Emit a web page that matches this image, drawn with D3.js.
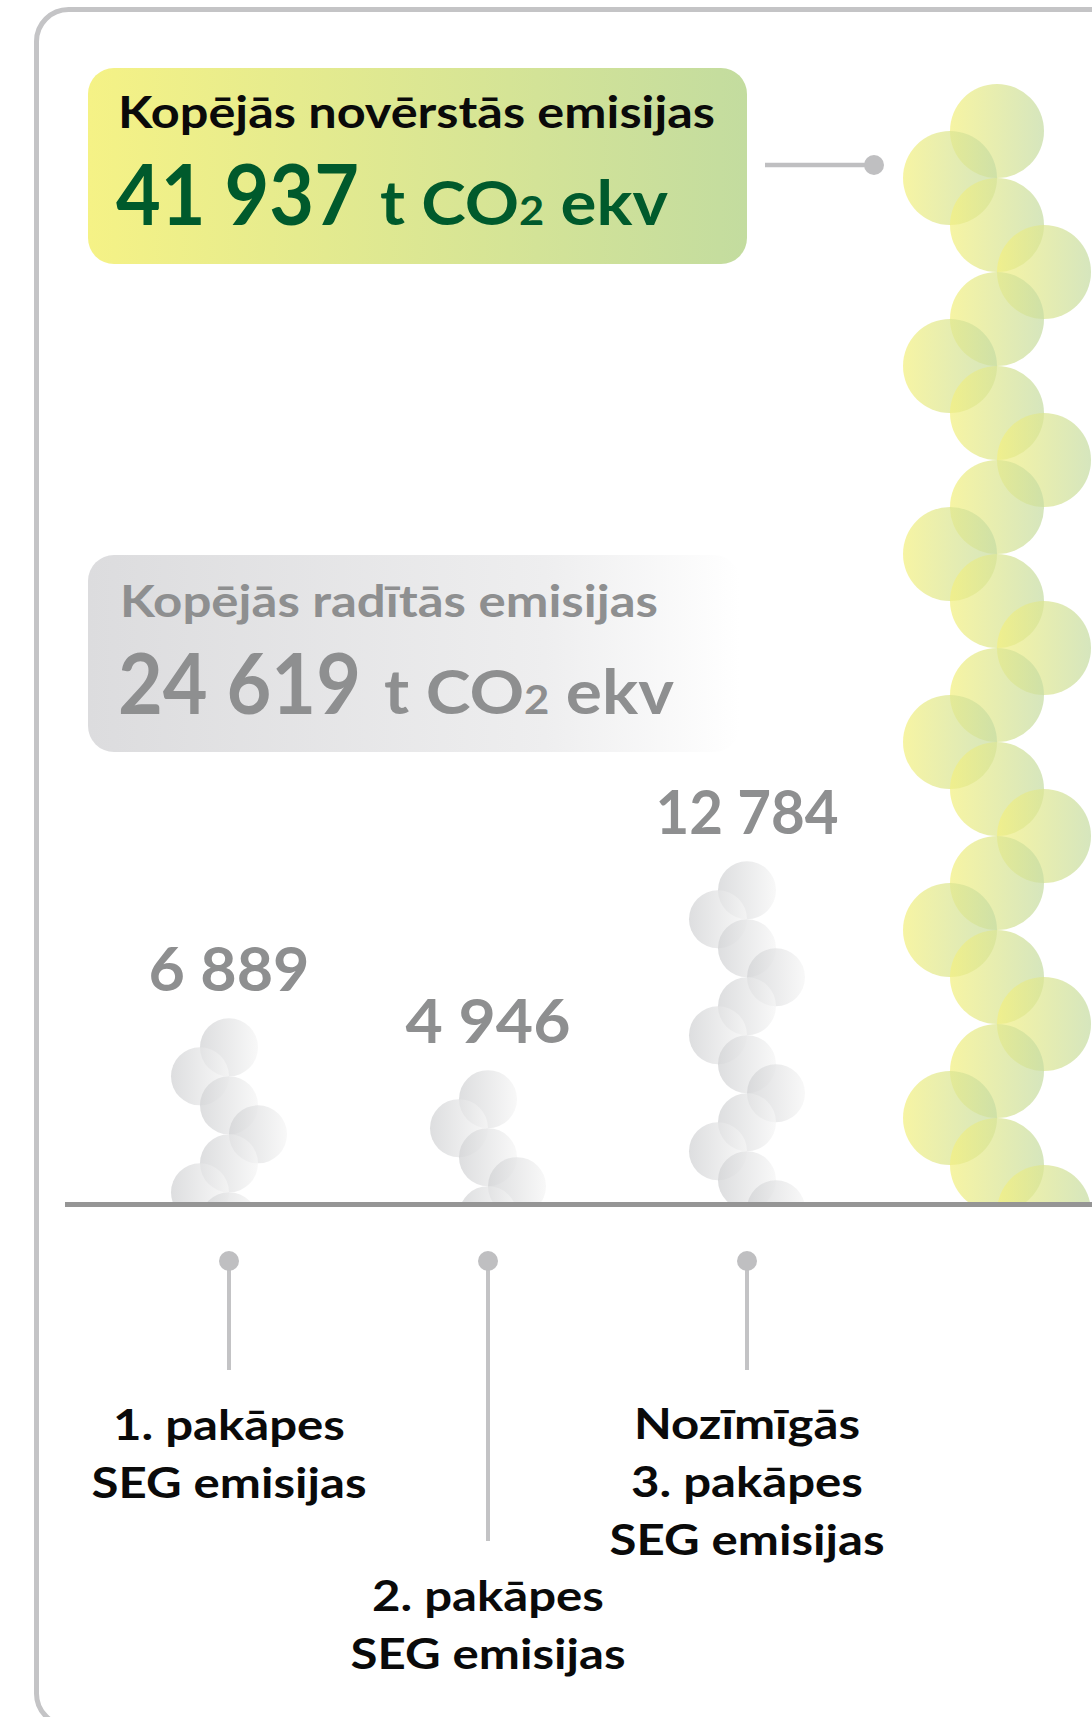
<!DOCTYPE html>
<html>
<head>
<meta charset="utf-8">
<script src="https://cdn.jsdelivr.net/npm/d3@7"></script>
<style>
  body { margin: 0; background: #fff; }
  text { font-family: Lato, "Open Sans", sans-serif; }
</style>
</head>
<body>
<div id="chart"></div>
<script>
// data
var categories = ["1. pakāpes SEG emisijas", "2. pakāpes SEG emisijas", "Nozīmīgās 3. pakāpes SEG emisijas"];
var categoryLines = [["1. pakāpes", "SEG emisijas"], ["2. pakāpes", "SEG emisijas"], ["Nozīmīgās", "3. pakāpes", "SEG emisijas"]];
var values = [6889, 4946, 12784];
var valueLabels = ["6 889", "4 946", "12 784"];
var avoidedTitle = "Kopējās novērstās emisijas";
var avoidedValue = 41937;
var avoidedLabel = "41 937";
var producedTitle = "Kopējās radītās emisijas";
var producedValue = 24619;
var producedLabel = "24 619";
var unitParts = ["t CO", "2", " ekv"];

var width = 1092, height = 1717;
var baseY = 1202;

var svg = d3.select("#chart").append("svg")
    .attr("width", width)
    .attr("height", height);

var defs = svg.append("defs");
function grad(id, stops) {
  var g = defs.append("linearGradient").attr("id", id)
      .attr("x1", "0%").attr("x2", "100%").attr("y1", "0%").attr("y2", "0%");
  stops.forEach(function (s) {
    g.append("stop").attr("offset", s[0]).attr("stop-color", s[1]);
  });
}
grad("gGreenBox", [["0%", "#f5f286"], ["100%", "#c3dc9f"]]);
grad("gGreyBox", [["0%", "#dcdcde"], ["70%", "#eeeeef"], ["100%", "#ffffff"]]);
grad("gGreenDot", [["0%", "#f3f080"], ["100%", "#c6dca4"]]);
grad("gGreyDot", [["0%", "#d2d3d5"], ["100%", "#f6f6f6"]]);

defs.append("clipPath").attr("id", "aboveBase")
  .append("rect").attr("x", 0).attr("y", 0).attr("width", width).attr("height", baseY);

// scales
var y = d3.scaleLinear().domain([0, avoidedValue]).range([baseY, 84]);
var x = d3.scalePoint().domain(categories).range([229, 747]);
var xAvoided = 997;

// outer frame
svg.append("rect")
    .attr("x", 36.5).attr("y", 9.5)
    .attr("width", 1200).attr("height", 1716)
    .attr("rx", 32)
    .attr("fill", "none")
    .attr("stroke", "#c4c4c6")
    .attr("stroke-width", 5);

// squeeze or stretch a text to a measured width
function fit(sel, w) {
  var cur = sel.node().getComputedTextLength();
  if (Math.abs(cur - w) > 2) sel.attr("textLength", w).attr("lengthAdjust", "spacingAndGlyphs");
  return sel;
}

function unitText(g, xPos, yPos, color, w) {
  var t = g.append("text").attr("x", xPos).attr("y", yPos)
      .attr("fill", color).attr("font-weight", 700).attr("font-size", 62);
  t.append("tspan").text(unitParts[0]);
  t.append("tspan").attr("font-size", 40).text(unitParts[1]);
  t.append("tspan").text(unitParts[2]);
  fit(t, w);
}

// avoided box
var gA = svg.append("g");
gA.append("rect").attr("x", 88).attr("y", 68).attr("width", 659).attr("height", 196)
    .attr("rx", 26).attr("fill", "url(#gGreenBox)");
fit(gA.append("text").attr("x", 118).attr("y", 128).attr("font-size", 44).attr("font-weight", 700)
    .attr("fill", "#0a0a0a").text(avoidedTitle), 597);
fit(gA.append("text").attr("x", 116).attr("y", 225).attr("font-size", 84).attr("font-weight", 700)
    .attr("fill", "#005a2c").text(avoidedLabel), 243);
unitText(gA, 380, 225, "#005a2c", 288);

// produced box
var gP = svg.append("g");
gP.append("rect").attr("x", 88).attr("y", 555).attr("width", 652).attr("height", 197)
    .attr("rx", 26).attr("fill", "url(#gGreyBox)");
fit(gP.append("text").attr("x", 120).attr("y", 617).attr("font-size", 44).attr("font-weight", 700)
    .attr("fill", "#8e8f90").text(producedTitle), 538);
fit(gP.append("text").attr("x", 118).attr("y", 714).attr("font-size", 84).attr("font-weight", 700)
    .attr("fill", "#8e8f90").text(producedLabel), 243);
unitText(gP, 384, 714, "#8e8f90", 290);

// stacks of circles, zig-zagging upward from the baseline
var zig = [0, -1, 0, 1];
function stack(cx, value, r) {
  var top = y(value), pts = [];
  for (var k = 0; top + k * r < baseY; k++) {
    pts.push({ cx: cx + zig[k % 4] * r, cy: top + r + k * r, r: r });
  }
  return pts;
}

var plot = svg.append("g").attr("clip-path", "url(#aboveBase)");

plot.append("g").selectAll("circle")
  .data(stack(xAvoided, avoidedValue, 47))
  .join("circle")
    .attr("cx", function (d) { return d.cx; })
    .attr("cy", function (d) { return d.cy; })
    .attr("r", function (d) { return d.r; })
    .attr("fill", "url(#gGreenDot)")
    .attr("fill-opacity", 0.72);

categories.forEach(function (c, i) {
  plot.append("g").selectAll("circle")
    .data(stack(x(c), values[i], 29))
    .join("circle")
      .attr("cx", function (d) { return d.cx; })
      .attr("cy", function (d) { return d.cy; })
      .attr("r", function (d) { return d.r; })
      .attr("fill", "url(#gGreyDot)")
      .attr("fill-opacity", 0.75);
});

// value labels
var valueWidths = [161, 165, 183];
categories.forEach(function (c, i) {
  fit(svg.append("text")
      .attr("x", x(c)).attr("y", y(values[i]) - 27)
      .attr("text-anchor", "middle")
      .attr("font-size", 62).attr("font-weight", 700)
      .attr("fill", "#8e8f90")
      .text(valueLabels[i]), valueWidths[i]);
});

// baseline
svg.append("line")
    .attr("x1", 65).attr("x2", width)
    .attr("y1", baseY + 2.5).attr("y2", baseY + 2.5)
    .attr("stroke", "#959595").attr("stroke-width", 5);

// connector to avoided box
svg.append("line").attr("x1", 765).attr("x2", 874).attr("y1", 165).attr("y2", 165)
    .attr("stroke", "#bfbfc1").attr("stroke-width", 4.5);
svg.append("circle").attr("cx", 874).attr("cy", 165).attr("r", 10).attr("fill", "#bfbfc1");

// category pins and labels
var stagger = [0, 171, 0];
var lineH = 58;
var widen = 1.17;
categories.forEach(function (c, i) {
  var cx = x(c);
  svg.append("line").attr("x1", cx).attr("x2", cx)
      .attr("y1", 1261).attr("y2", 1370 + stagger[i])
      .attr("stroke", "#c3c3c5").attr("stroke-width", 4);
  svg.append("circle").attr("cx", cx).attr("cy", 1261).attr("r", 10).attr("fill", "#bfbfc1");
  var first = (categoryLines[i].length === 3 ? 1439 : 1440) + stagger[i];
  categoryLines[i].forEach(function (ln, j) {
    var t = svg.append("text")
        .attr("x", cx).attr("y", first + j * lineH)
        .attr("text-anchor", "middle")
        .attr("font-size", 42).attr("font-weight", 700)
        .attr("fill", "#0a0a0a")
        .text(ln);
    fit(t, t.node().getComputedTextLength() * widen);
  });
});
</script>
</body>
</html>
